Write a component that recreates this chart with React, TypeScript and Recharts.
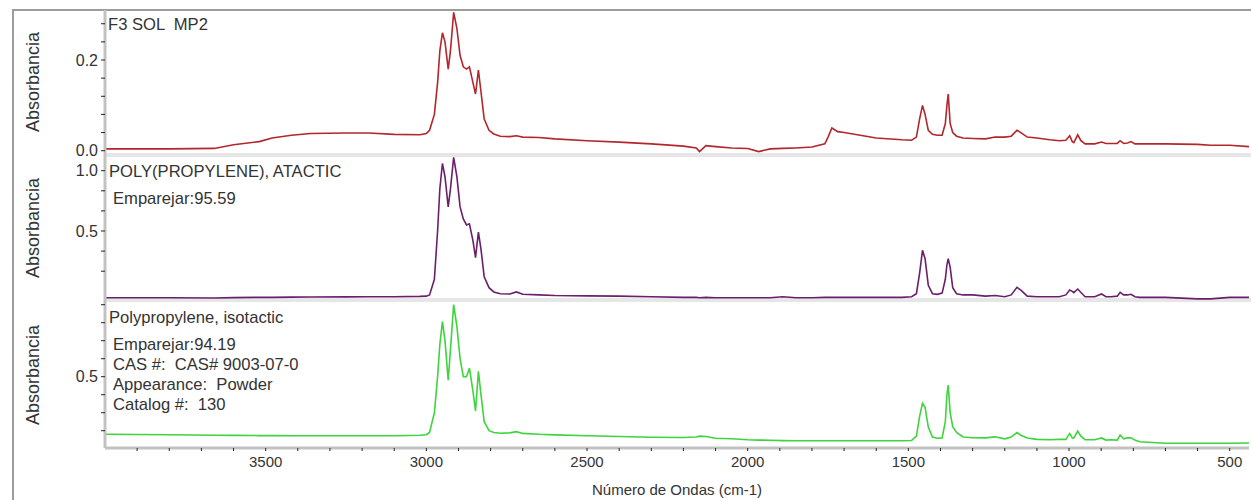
import { LineChart, Line, XAxis, YAxis } from 'recharts';

// wavenumber (cm-1), shared by the three spectra
const wavenumbers = [
  4000, 3800, 3660, 3600, 3520, 3480, 3420, 3360, 3250, 3180,
  3100, 3020, 3000, 2990, 2975, 2965, 2958, 2950, 2942, 2932,
  2925, 2915, 2905, 2895, 2885, 2875, 2866, 2855, 2847, 2838,
  2830, 2820, 2805, 2790, 2770, 2740, 2720, 2700, 2650, 2600,
  2500, 2400, 2300, 2200, 2160, 2150, 2130, 2100, 2050, 2000,
  1966, 1930, 1891, 1850, 1800, 1760, 1750, 1738, 1720, 1700,
  1650, 1600, 1520, 1490, 1475, 1465, 1456, 1448, 1438, 1425,
  1410, 1395, 1385, 1380, 1376, 1370, 1362, 1350, 1330, 1300,
  1260, 1230, 1200, 1180, 1162, 1150, 1130, 1100, 1060, 1030,
  1010, 998, 990, 985, 973, 963, 950, 920, 899, 885,
  870, 850, 841, 830, 818, 807, 795, 780, 700, 600,
  560, 500, 440,
];

const f3SolMp2 = [
  0.004, 0.004, 0.005, 0.013, 0.02, 0.028, 0.034, 0.038, 0.039, 0.039,
  0.036, 0.035, 0.038, 0.045, 0.08, 0.15, 0.22, 0.26, 0.24, 0.18,
  0.22, 0.305, 0.27, 0.21, 0.185, 0.18, 0.185, 0.15, 0.125, 0.178,
  0.13, 0.07, 0.045, 0.037, 0.032, 0.031, 0.033, 0.03, 0.029, 0.026,
  0.022, 0.019, 0.015, 0.01, 0.006, -0.002, 0.011, 0.009, 0.006, 0.005,
  -0.002, 0.004, 0.005, 0.006, 0.008, 0.015, 0.03, 0.05, 0.042, 0.04,
  0.034, 0.028, 0.024, 0.023, 0.03, 0.07, 0.1, 0.08, 0.045, 0.036,
  0.034, 0.034, 0.06, 0.1, 0.125, 0.06, 0.04, 0.032, 0.028, 0.027,
  0.026, 0.03, 0.03, 0.032, 0.045, 0.04, 0.03, 0.028, 0.024, 0.022,
  0.023, 0.033, 0.02, 0.018, 0.035, 0.022, 0.015, 0.015, 0.019, 0.016,
  0.016, 0.016, 0.022, 0.016, 0.017, 0.02, 0.015, 0.015, 0.015, 0.014,
  0.012, 0.012, 0.009,
];

const ppAtactic = [
  -0.053, -0.053, -0.055, -0.052, -0.05, -0.05, -0.048, -0.047, -0.046, -0.045,
  -0.045, -0.042, -0.04, -0.03, 0.1, 0.5, 0.85, 1.06, 0.95, 0.7,
  0.85, 1.11, 0.95, 0.7, 0.6, 0.55, 0.56, 0.42, 0.28, 0.49,
  0.35, 0.12, 0.03, -0.005, -0.02, -0.022, -0.005, -0.025, -0.03, -0.035,
  -0.038, -0.04, -0.045, -0.05, -0.05, -0.053, -0.05, -0.053, -0.053, -0.053,
  -0.053, -0.053, -0.045, -0.053, -0.053, -0.05, -0.05, -0.05, -0.05, -0.05,
  -0.05, -0.05, -0.05, -0.045, -0.02, 0.15, 0.34, 0.27, 0.05, -0.02,
  -0.025, -0.015, 0.1, 0.22, 0.27, 0.2, 0.03, -0.02, -0.03, -0.03,
  -0.04, -0.035, -0.045, -0.03, 0.033, 0.01, -0.04, -0.045, -0.045, -0.045,
  -0.03, 0.011, 0.0, -0.011, 0.019, -0.01, -0.045, -0.045, -0.022, -0.045,
  -0.045, -0.04, -0.008, -0.03, -0.03, -0.025, -0.045, -0.05, -0.05, -0.063,
  -0.063, -0.05, -0.05,
];

const ppIsotactic = [
  0.18, 0.178, 0.175, 0.174, 0.173, 0.173, 0.172, 0.172, 0.172, 0.172,
  0.172, 0.175, 0.178, 0.19, 0.3, 0.5, 0.68, 0.806, 0.7, 0.48,
  0.65, 0.9, 0.78, 0.6, 0.5, 0.5, 0.547, 0.42, 0.31, 0.53,
  0.4, 0.25, 0.2, 0.19, 0.186, 0.188, 0.195, 0.185, 0.18, 0.177,
  0.172, 0.168, 0.164, 0.162, 0.165, 0.17, 0.168, 0.158, 0.155, 0.15,
  0.148, 0.147, 0.145, 0.144, 0.144, 0.144, 0.144, 0.144, 0.144, 0.144,
  0.144, 0.144, 0.144, 0.146, 0.17, 0.28, 0.352, 0.33, 0.22, 0.165,
  0.158, 0.16, 0.25, 0.4, 0.454, 0.3, 0.222, 0.19, 0.165, 0.161,
  0.16, 0.166, 0.155, 0.165, 0.19, 0.175, 0.16, 0.152, 0.15, 0.152,
  0.152, 0.185, 0.16, 0.16, 0.198, 0.17, 0.15, 0.15, 0.16, 0.148,
  0.15, 0.148, 0.176, 0.155, 0.16, 0.16, 0.148, 0.139, 0.13, 0.13,
  0.13, 0.13, 0.132,
];

const xTicks = [
  3900, 3800, 3700, 3600, 3500, 3400, 3300, 3200, 3100, 3000,
  2900, 2800, 2700, 2600, 2500, 2400, 2300, 2200, 2100, 2000,
  1900, 1800, 1700, 1600, 1500, 1400, 1300, 1200, 1100, 1000,
  900, 800, 700, 600, 500,
];
const xLabels = [3500, 3000, 2500, 2000, 1500, 1000, 500];

const f3Ticks = [0, 0.04, 0.08, 0.12, 0.16, 0.2, 0.24, 0.28];
const f3Labels = ['0.0', '', '', '', '', '0.2', '', ''];
const atacticTicks = [1 / 6, 2 / 6, 0.5, 4 / 6, 5 / 6, 1];
const atacticLabels = ['', '', '0.5', '', '', '1.0'];
const isotacticTicks = [0.2, 0.3, 0.4, 0.5, 0.6, 0.7, 0.8, 0.9];
const isotacticLabels = ['', '', '', '0.5', '', '', '', ''];

const rows = wavenumbers.map((wn, i) => ({
  wn,
  f3: f3SolMp2[i],
  ata: ppAtactic[i],
  iso: ppIsotactic[i],
}));

const FONT = '"Liberation Sans", Arial, sans-serif';
const TEXT = '#333';

const labelFor = (ticks: number[], labels: string[]) => (v: number) => {
  const i = ticks.findIndex((t) => Math.abs(t - v) < 1e-6);
  return i >= 0 ? labels[i] : '';
};

interface PanelProps {
  top: number;
  plotHeight: number;
  dataKey: string;
  color: string;
  domain: [number, number];
  ticks: number[];
  labels: string[];
  withXAxis?: boolean;
}

function Panel({ top, plotHeight, dataKey, color, domain, ticks, labels, withXAxis }: PanelProps) {
  // room under the plot: the x axis for the last panel, some slack for tick text otherwise
  const below = withXAxis ? 52 : 10;
  return (
    <div style={{ position: 'absolute', left: 0, top }}>
      <LineChart
        width={1251}
        height={plotHeight + below}
        data={rows}
        margin={{ top: 0, right: 2, bottom: withXAxis ? 0 : below, left: 0 }}
      >
        <XAxis
          type="number"
          dataKey="wn"
          domain={[440, 4000]}
          reversed
          allowDataOverflow
          hide={!withXAxis}
          height={withXAxis ? below : 0}
          ticks={xTicks}
          interval={0}
          tickFormatter={(v: number) => (xLabels.includes(v) ? String(v) : '')}
          axisLine={{ stroke: '#c2c2c2', strokeWidth: 3 }}
          tickLine={{ stroke: '#222' }}
          tickSize={3}
          tickMargin={5}
          tick={{ fill: TEXT, fontSize: 15, fontFamily: FONT }}
        />
        <YAxis
          type="number"
          width={105}
          domain={domain}
          allowDataOverflow
          ticks={ticks}
          interval={0}
          tickFormatter={labelFor(ticks, labels)}
          axisLine={{ stroke: '#c2c2c2', strokeWidth: 3 }}
          tickLine={{ stroke: '#222' }}
          tickSize={4}
          tickMargin={3}
          tick={{ fill: TEXT, fontSize: 16, fontFamily: FONT }}
        />
        <Line
          type="linear"
          dataKey={dataKey}
          stroke={color}
          strokeWidth={1.6}
          dot={false}
          isAnimationActive={false}
        />
      </LineChart>
    </div>
  );
}

const textStyle = (left: number, top: number) => ({
  position: 'absolute' as const,
  left,
  top,
  fontFamily: FONT,
  fontSize: 16.6,
  lineHeight: '20px',
  color: TEXT,
  whiteSpace: 'pre' as const,
});

const yTitle = (centerY: number) => ({
  position: 'absolute' as const,
  left: 33,
  top: centerY,
  transform: 'translate(-50%, -50%) rotate(-90deg)',
  fontFamily: FONT,
  fontSize: 18,
  color: TEXT,
  whiteSpace: 'nowrap' as const,
});

export default function App() {
  return (
    <div
      style={{
        position: 'absolute',
        left: 0,
        top: 0,
        width: 1251,
        height: 500,
        background: '#fff',
        overflow: 'hidden',
      }}
    >
      {/* outer frame and panel separators */}
      <div style={{ position: 'absolute', left: 12, top: 9, width: 1239, height: 2, background: '#9c9c9c' }} />
      <div style={{ position: 'absolute', left: 12, top: 9, width: 2, height: 491, background: '#9c9c9c' }} />
      <div style={{ position: 'absolute', left: 105, top: 153, width: 1146, height: 4, background: '#e6e6e6' }} />
      <div style={{ position: 'absolute', left: 105, top: 298, width: 1146, height: 4, background: '#e6e6e6' }} />

      <Panel
        top={10}
        plotHeight={144}
        dataKey="f3"
        color="#b3262c"
        domain={[-0.0073, 0.3103]}
        ticks={f3Ticks}
        labels={f3Labels}
      />
      <Panel
        top={154}
        plotHeight={146}
        dataKey="ata"
        color="#6a1f6c"
        domain={[-0.0721, 1.1385]}
        ticks={atacticTicks}
        labels={atacticLabels}
      />
      <Panel
        top={300}
        plotHeight={148}
        dataKey="iso"
        color="#3ed43e"
        domain={[0.104, 0.926]}
        ticks={isotacticTicks}
        labels={isotacticLabels}
        withXAxis
      />

      <div style={yTitle(82)}>Absorbancia</div>
      <div style={yTitle(228)}>Absorbancia</div>
      <div style={yTitle(375)}>Absorbancia</div>

      <div style={textStyle(108, 15)}>F3 SOL  MP2</div>
      <div style={textStyle(109, 162)}>POLY(PROPYLENE), ATACTIC</div>
      <div style={textStyle(113, 189)}>Emparejar:95.59</div>
      <div style={textStyle(109, 308)}>Polypropylene, isotactic</div>
      <div style={textStyle(113, 335)}>Emparejar:94.19</div>
      <div style={textStyle(113, 355)}>CAS #:  CAS# 9003-07-0</div>
      <div style={textStyle(113, 375)}>Appearance:  Powder</div>
      <div style={textStyle(113, 395)}>Catalog #:  130</div>

      <div
        style={{
          position: 'absolute',
          left: 677,
          top: 480,
          transform: 'translateX(-50%)',
          fontFamily: FONT,
          fontSize: 15,
          lineHeight: '20px',
          color: TEXT,
          whiteSpace: 'nowrap',
        }}
      >
        Número de Ondas (cm-1)
      </div>
    </div>
  );
}
